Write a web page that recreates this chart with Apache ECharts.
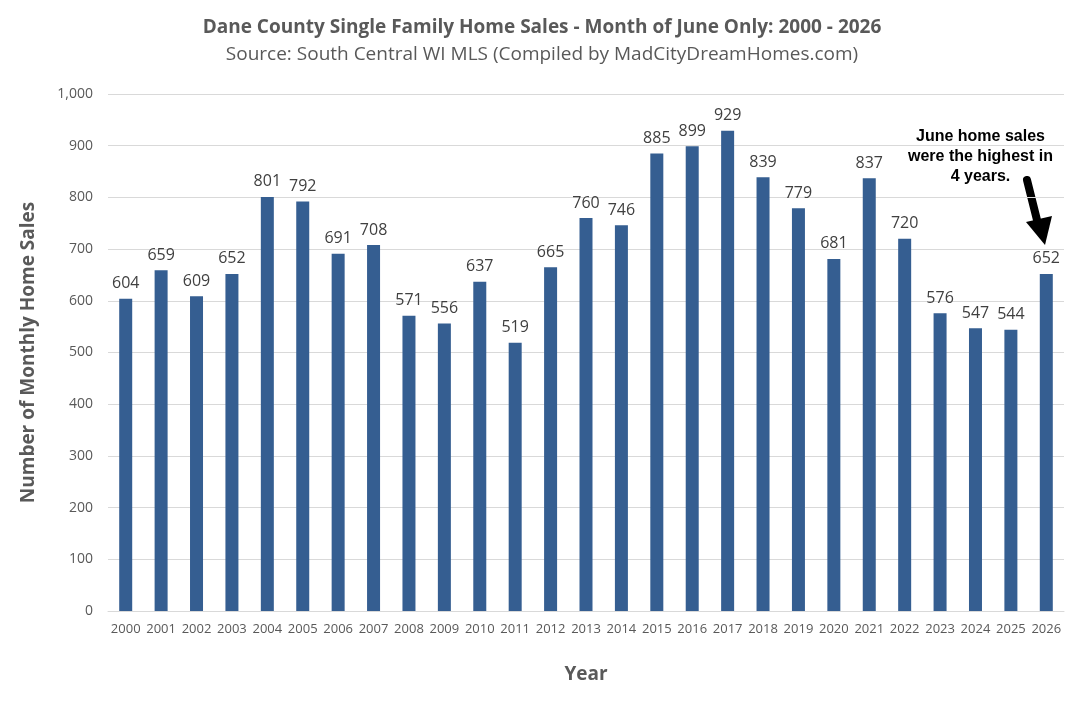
<!DOCTYPE html>
<html>
<head>
<meta charset="utf-8">
<script src="https://cdn.jsdelivr.net/npm/echarts@6/dist/echarts.min.js"></script>
<style>
html, body { margin: 0; padding: 0; background: #fff; }
#chart { width: 1084px; height: 703px; }
</style>
</head>
<body>
<div id="chart"></div>
<script>
var years = ['2000', '2001', '2002', '2003', '2004', '2005', '2006', '2007', '2008', '2009',
    '2010', '2011', '2012', '2013', '2014', '2015', '2016', '2017', '2018', '2019',
    '2020', '2021', '2022', '2023', '2024', '2025', '2026'];
var sales = [604, 659, 609, 652, 801, 792, 691, 708, 571, 556,
    637, 519, 665, 760, 746, 885, 899, 929, 839, 779,
    681, 837, 720, 576, 547, 544, 652];

var chart = echarts.init(document.getElementById('chart'));
var font = '"Open Sans", "Noto Sans", sans-serif';

chart.setOption({
    animation: false,
    backgroundColor: '#fff',
    textStyle: { fontFamily: font },
    title: {
        text: 'Dane County Single Family Home Sales - Month of June Only: 2000 - 2026',
        subtext: 'Source: South Central WI MLS (Compiled by MadCityDreamHomes.com)',
        left: 'center',
        top: 13,
        itemGap: 8,
        textStyle: { fontSize: 19, fontWeight: 'bold', color: '#595959', fontFamily: font },
        subtextStyle: { fontSize: 19, color: '#595959', fontFamily: font }
    },
    grid: { left: 108, right: 20, top: 94, bottom: 92 },
    xAxis: {
        type: 'category',
        data: years,
        name: 'Year',
        nameLocation: 'middle',
        nameGap: 54,
        nameTextStyle: { fontSize: 19, fontWeight: 'bold', color: '#595959' },
        axisTick: { show: false },
        axisLine: { lineStyle: { color: '#d9d9d9' } },
        axisLabel: { color: '#595959', fontSize: 13, margin: 12, interval: 0 }
    },
    yAxis: {
        type: 'value',
        min: 0,
        max: 1000,
        interval: 100,
        name: 'Number of Monthly Home Sales',
        nameLocation: 'middle',
        nameGap: 70,
        nameTextStyle: { fontSize: 19, fontWeight: 'bold', color: '#595959' },
        axisLine: { show: false },
        axisTick: { show: false },
        splitLine: { lineStyle: { color: '#d9d9d9' } },
        axisLabel: {
            color: '#595959', fontSize: 14, margin: 15,
            formatter: function (v) { return v.toLocaleString('en-US'); }
        }
    },
    series: [{
        type: 'bar',
        data: sales,
        barWidth: 13,
        itemStyle: { color: '#355E91' },
        label: {
            show: true,
            position: 'top',
            distance: 7,
            color: '#404040',
            fontSize: 16
        }
    }],
    graphic: [
        {
            type: 'text',
            left: 908,
            top: 127,
            style: {
                text: 'June home sales\nwere the highest in\n4 years.',
                textAlign: 'center',
                x: 75,
                font: 'bold 16px "Liberation Sans", Arial, sans-serif',
                lineHeight: 20,
                fill: '#000'
            }
        },
        {
            type: 'line',
            shape: { x1: 1027, y1: 180, x2: 1038, y2: 224 },
            style: { stroke: '#000', lineWidth: 8, lineCap: 'round' }
        },
        {
            type: 'polygon',
            shape: { points: [[1026, 222], [1052, 216], [1045, 245]] },
            style: { fill: '#000' }
        }
    ]
});
</script>
</body>
</html>
